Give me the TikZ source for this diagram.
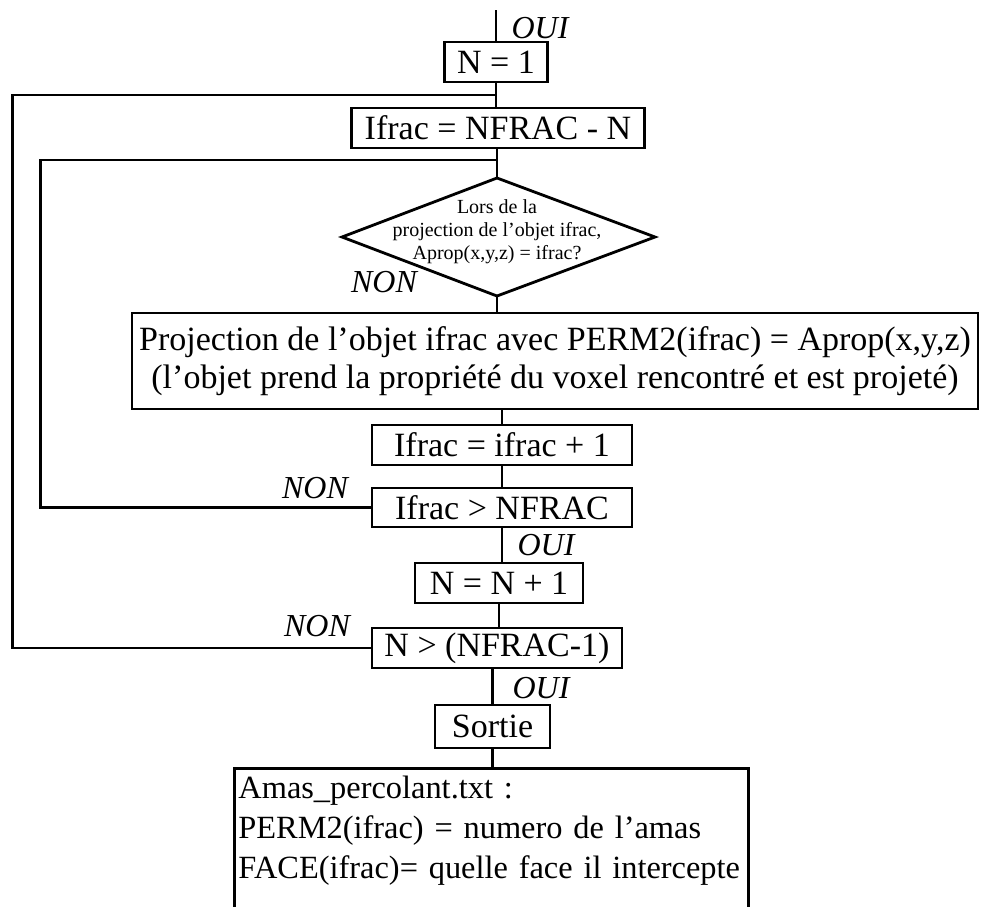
\documentclass[tikz,border=0pt]{standalone}
\usepackage{fontspec}
\setmainfont{Liberation Serif}
\begin{document}
\begin{tikzpicture}[x=0.5pt,y=-0.5pt,line width=1.4pt,
  boite/.style={draw,inner sep=0pt,font=\fontsize{17}{19}\selectfont},
  rep/.style={font=\fontsize{16}{18}\selectfont\itshape}]
\useasboundingbox (0,0) rectangle (984,906);
\clip (0,0) rectangle (984,906);
% boites du tronc
\coordinate (entree) at (496,10);
\node[boite,minimum width=51.5pt,minimum height=20pt] (n1) at (496,62) {N = 1};
\node[boite,minimum width=146.5pt,minimum height=20pt] (ifrac0) at (498,128) {Ifrac = NFRAC - N};
\node[align=center,font=\fontsize{10}{11.5}\selectfont] (losange) at (497,232) {Lors de la\\projection de l'objet ifrac,\\Aprop(x,y,z) = ifrac?};
\coordinate (losange-w) at (342,237); \coordinate (losange-n) at (497,178);
\coordinate (losange-e) at (655,237); \coordinate (losange-s) at (497,296);
\draw (losange-w) -- (losange-n) -- (losange-e) -- (losange-s) -- cycle;
\node[boite,minimum width=423pt,minimum height=48pt,align=center,font=\fontsize{17}{19}\selectfont] (proj) at (555,361) {Projection de l'objet ifrac avec PERM2(ifrac) = Aprop(x,y,z)\\(l'objet prend la propriété du voxel rencontré et est projeté)};
\node[boite,minimum width=130pt,minimum height=20pt] (ifracplus) at (502,445) {Ifrac = ifrac + 1};
\node[boite,minimum width=130pt,minimum height=19.5pt] (itest) at (502,507.5) {Ifrac > NFRAC};
\node[boite,minimum width=84pt,minimum height=20pt] (nplus) at (499,583) {N = N + 1};
\node[boite,minimum width=125pt,minimum height=20pt] (ntest) at (497,648) {N > (NFRAC-1)};
\node[boite,minimum width=57.5pt,minimum height=21.5pt] (sortie) at (492.5,726.5) {Sortie};
\node[boite,anchor=north west,align=left,inner xsep=2pt,inner ysep=4pt,text width=253pt,font=\fontsize{16.2}{20}\selectfont] (fichier) at (233,767) {Amas\_percolant.txt :\\\mbox{PERM2(ifrac) = numero de l'amas}\\\mbox{FACE(ifrac)= quelle face il intercepte}\\~\\~};
% liaisons
\coordinate (boucleN) at (496,95);
\coordinate (boucleI) at (497,160);
\draw (entree) -- (n1);
\draw (n1.south) -- (n1.south |- ifrac0.north);
\draw (ifrac0.south -| losange-n) -- (losange-n);
\draw (losange-s) -- (losange-s |- proj.north);
\draw (ifracplus.north |- proj.south) -- (ifracplus);
\draw (ifracplus) -- (itest);
\draw (nplus.north -| itest.south) -- (itest.south);
\draw (nplus.south) -- (nplus.south |- ntest.north);
\draw (sortie.north) -- (sortie.north |- ntest.south);
\draw (sortie.south) -- (sortie.south |- fichier.north);
\draw (itest.west) -- ++(-330,0) |- (boucleI);
\draw (ntest.west) -- ++(-358,0) |- (boucleN);
% reponses
\node[rep] (oui1) at (540,28) {OUI};
\node[rep] (non1) at (384,282) {NON};
\node[rep] (non2) at (315,488) {NON};
\node[rep] (oui2) at (546,545) {OUI};
\node[rep] (non3) at (317,626) {NON};
\node[rep] (oui3) at (541,688) {OUI};
\end{tikzpicture}
\end{document}
